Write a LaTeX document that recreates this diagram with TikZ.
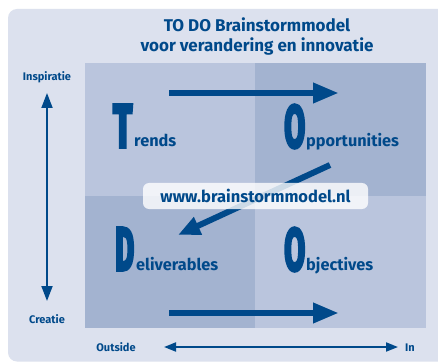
\documentclass[tikz,border=0pt]{standalone}
\usepackage{fontspec}
\setmainfont{Fira Sans}
\newfontfamily\heavyfont{Fira Sans}[FakeBold=6]
\usetikzlibrary{arrows.meta}

\definecolor{navy}{HTML}{00498A}
\definecolor{panel}{HTML}{DCE1EE}
\definecolor{qlight}{HTML}{BAC5DD}
\definecolor{qdark}{HTML}{A3B3D0}

\tikzset{
  txt/.style={inner sep=0pt, text=navy, font=\bfseries},
  title/.style={txt, font=\fontsize{17}{19}\selectfont\bfseries},
  side/.style={txt, font=\fontsize{11}{13}\selectfont\bfseries},
  word/.style={txt, font=\fontsize{16.3}{18}\selectfont\bfseries, anchor=base west},
  initial/.style={inner sep=0pt, text=navy, anchor=base west},
  bigarrow/.style={draw=navy, line width=6.5pt,
    -{Triangle[width=19pt, length=26pt]}},
  diagarrow/.style={draw=navy, line width=6pt,
    -{Triangle[width=18pt, length=22pt]}},
  axis/.style={draw=navy, line width=1.8pt},
  urlbox/.style={txt, fill=white, fill opacity=0.8, text opacity=1,
    rounded corners=6pt, minimum width=225pt, minimum height=26pt,
    font=\fontsize{16.5}{19}\selectfont\bfseries},
}

% one tall, narrow initial letter
\newcommand{\bigini}[2]{\resizebox{#1}{42pt}{\heavyfont\bfseries #2}}

\begin{document}
\begin{tikzpicture}[x=1pt, y=-1pt]
  \useasboundingbox (0,0) rectangle (438,363);
  \clip (0,0) rectangle (438,363);
  \fill[white] (0,0) rectangle (438,363);

  % background panel
  \fill[panel, rounded corners=9pt] (8,9) rectangle (470,361.5);

  % the four quadrants
  \fill[qlight] (85,63)  rectangle (255,196);
  \fill[qdark]  (255,63) rectangle (426,196);
  \fill[qdark]  (85,196) rectangle (255,328);
  \fill[qlight] (255,196) rectangle (426,328);

  % heading
  \node[title, anchor=base] (head1) at (257,32) {TO DO Brainstormmodel};
  \node[title, anchor=base] (head2) at (257,52) {voor verandering en innovatie};

  % axis labels
  \node[side, anchor=base] (insp) at (47,80.5) {Inspiratie};
  \node[side, anchor=base] (crea) at (47,323) {Creatie};
  \node[side, anchor=base] (outs) at (116,351) {Outside};
  \node[side, anchor=base] (inn)  at (410,351) {In};

  % axis arrows
  \coordinate (vtop) at (47,93);
  \coordinate (vbot) at (47,301);
  \draw[axis, {Triangle[width=11pt, length=15pt]}-{Triangle[width=11pt, length=15pt]}] (vtop) -- (vbot);
  \coordinate (hleft) at (164,347);
  \coordinate (hright) at (398,347);
  \draw[axis, {Triangle[width=9pt, length=12pt]}-{Triangle[width=9pt, length=12pt]}] (hleft) -- (hright);

  % quadrant labels
  \node[initial] (iT) at (113,147) {\bigini{19pt}{T}};
  \node[word] (wT) at (134,147) {rends};
  \node[initial] (iO) at (284,147) {\bigini{21pt}{O}};
  \node[word] (wO) at (306,147) {pportunities};
  \node[initial] (iD) at (115,270) {\bigini{19pt}{D}};
  \node[word] (wD) at (136,270) {eliverables};
  \node[initial] (iO2) at (284,270) {\bigini{21pt}{O}};
  \node[word] (wO2) at (306,270) {bjectives};

  % flow arrows
  \coordinate (a1s) at (169,93);  \coordinate (a1e) at (339,93);
  \coordinate (a2s) at (169,313); \coordinate (a2e) at (339,313);
  \coordinate (a3s) at (330,165); \coordinate (a3e) at (178,235);
  \draw[bigarrow] (a1s) -- (a1e);
  \draw[bigarrow] (a2s) -- (a2e);
  \draw[diagarrow] (a3s) -- (a3e);

  % web address
  \node[urlbox] (url) at (255.5,196) {www.brainstormmodel.nl};
\end{tikzpicture}
\end{document}
